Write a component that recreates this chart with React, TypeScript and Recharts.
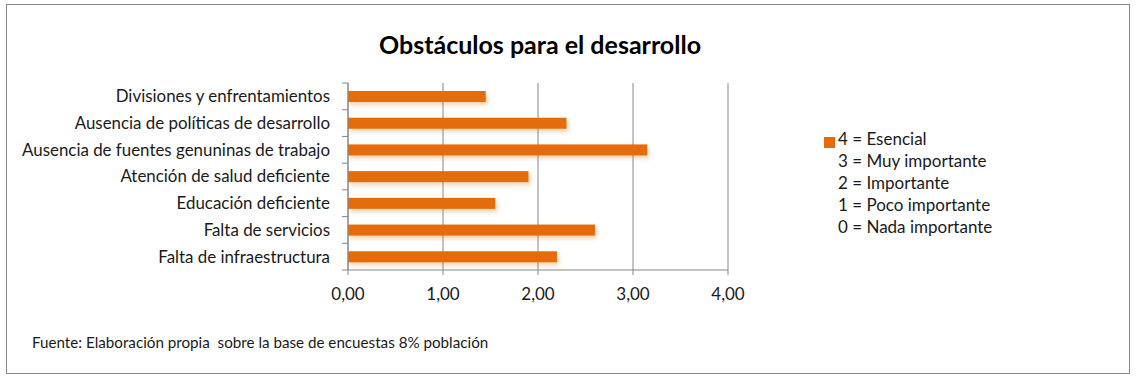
import React from 'react';
import { BarChart, Bar, XAxis, YAxis, CartesianGrid, Legend } from 'recharts';

const categories = [
  'Divisiones y enfrentamientos',
  'Ausencia de políticas de desarrollo',
  'Ausencia de fuentes genuninas de trabajo',
  'Atención de salud deficiente',
  'Educación deficiente',
  'Falta de servicios',
  'Falta de infraestructura',
];
const values = [1.45, 2.3, 3.15, 1.9, 1.55, 2.6, 2.2];
const xTicks = [0, 1, 2, 3, 4];
const legendLabels = [
  '4 = Esencial',
  '3 = Muy importante',
  '2 = Importante',
  '1 = Poco importante',
  '0 = Nada importante',
];
const title = 'Obstáculos para el desarrollo';
const source = 'Fuente: Elaboración propia  sobre la base de encuestas 8% población';

const data = categories.map((c, i) => ({ name: c, value: values[i] }));

const FONT = 'Lato, "Open Sans", sans-serif';
const ORANGE = '#E46C0A';
const GRID = '#878787';
const TEXT = '#1a1a1a';

const CategoryTick = (props: any) => {
  const { x, y, payload, index, visibleTicksCount } = props;
  const off = payload && payload.offset ? payload.offset : 0;
  const axisX = x + 18;
  return (
    <g>
      <line x1={axisX - 6} x2={axisX} y1={y - off} y2={y - off} stroke={GRID} strokeWidth={1} />
      {index === visibleTicksCount - 1 && (
        <line x1={axisX - 6} x2={axisX} y1={y + off} y2={y + off} stroke={GRID} strokeWidth={1} />
      )}
      <text x={x} y={y} dy="0.35em" textAnchor="end" fontFamily={FONT} fontSize={16.9} fill={TEXT}>
        {payload.value}
      </text>
    </g>
  );
};

const LegendContent = () => (
  <div style={{ fontFamily: FONT, fontSize: 17, color: TEXT, lineHeight: '22px', textAlign: 'left' }}>
    {legendLabels.map((l, i) => (
      <div key={l} style={{ display: 'flex', alignItems: 'center' }}>
        <span
          style={{
            display: 'inline-block',
            width: 11,
            height: 11,
            marginRight: 3,
            position: 'relative',
            top: 3,
            background: i === 0 ? ORANGE : 'transparent',
          }}
        />
        <span>{l}</span>
      </div>
    ))}
  </div>
);

const ShadowBar = (props: any) => {
  const { x, y, width, height } = props;
  return <rect x={x} y={y} width={width} height={height} fill={ORANGE} filter="url(#barShadow)" />;
};

export default function App() {
  return (
    <div style={{ position: 'absolute', left: 0, top: 0, width: 1140, height: 381, background: '#fff' }}>
      <div
        style={{
          position: 'absolute',
          left: 6,
          top: 4,
          width: 1122,
          height: 368,
          border: '1px solid #878787',
        }}
      />
      <div
        style={{
          position: 'absolute',
          left: 0,
          width: 1080,
          top: 29,
          lineHeight: '30px',
          textAlign: 'center',
          fontFamily: FONT,
          fontWeight: 'bold',
          fontSize: 25,
          color: '#000',
        }}
      >
        {title}
      </div>
      <div
        style={{
          position: 'absolute',
          left: 32,
          top: 333,
          fontFamily: FONT,
          fontSize: 15.2,
          color: TEXT,
          whiteSpace: 'pre',
        }}
      >
        {source}
      </div>
      <div style={{ position: 'absolute', left: 0, top: 0 }}>
        <BarChart
          width={1140}
          height={381}
          data={data}
          layout="vertical"
          margin={{ top: 83, right: 412, bottom: 0, left: 0 }}
          barSize={11}
        >
          <defs>
            <filter id="barShadow" x="-5%" y="-50%" width="115%" height="250%">
              <feDropShadow dx="2" dy="3" stdDeviation="2" floodColor={ORANGE} floodOpacity="0.3" />
            </filter>
          </defs>
          <CartesianGrid horizontal={false} stroke={GRID} strokeDasharray="" />
          <XAxis
            type="number"
            domain={[0, 4]}
            ticks={xTicks}
            height={111}
            tickSize={5}
            tickMargin={13}
            tickFormatter={(v: number) => v.toFixed(2).replace('.', ',')}
            stroke={GRID}
            tick={{ fill: TEXT, fontFamily: FONT, fontSize: 17 }}
            interval={0}
          />
          <YAxis
            type="category"
            dataKey="name"
            width={348}
            tickLine={false}
            tickSize={6}
            tickMargin={12}
            stroke={GRID}
            tick={<CategoryTick />}
            interval={0}
          />
          <Legend
            layout="vertical"
            verticalAlign="middle"
            align="center"
            wrapperStyle={{ left: 824, top: 128, width: 250 }}
            content={<LegendContent />}
          />
          <Bar dataKey="value" fill={ORANGE} isAnimationActive={false} shape={<ShadowBar />} />
        </BarChart>
      </div>
    </div>
  );
}
